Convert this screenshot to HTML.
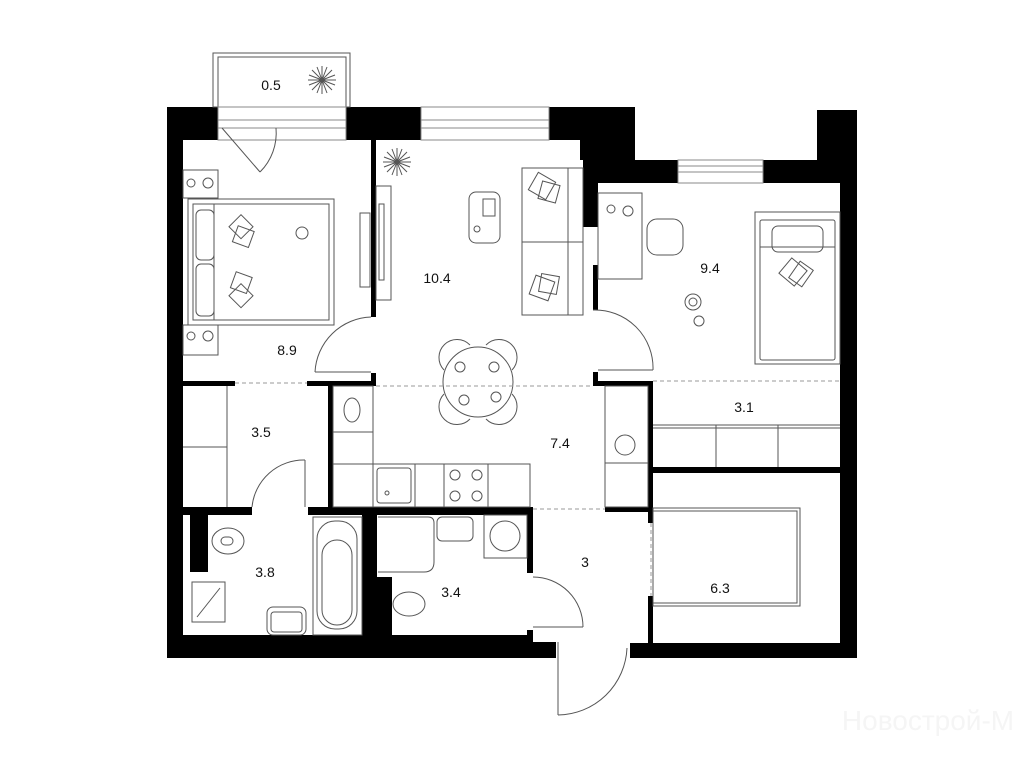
<!DOCTYPE html>
<html><head><meta charset="utf-8"><style>
html,body{margin:0;padding:0;background:#fff;width:1024px;height:768px;overflow:hidden}
svg{display:block}
text{font-family:"Liberation Sans",sans-serif;font-size:14px;fill:#111}
</style></head><body>
<svg width="1024" height="768" viewBox="0 0 1024 768" xmlns="http://www.w3.org/2000/svg">
<g fill="#000">
<rect x="167" y="107" width="16" height="551"/>
<rect x="167" y="107" width="51" height="33"/>
<rect x="346" y="107" width="75" height="33"/>
<rect x="549" y="107" width="86" height="33"/>
<rect x="580" y="107" width="55" height="53"/>
<rect x="583" y="140" width="15" height="87"/>
<rect x="598" y="160" width="80" height="23"/>
<rect x="763" y="160" width="54" height="23"/>
<rect x="817" y="110" width="40" height="73"/>
<rect x="840" y="110" width="17" height="548"/>
<rect x="167" y="635" width="366" height="23"/>
<rect x="533" y="642" width="23" height="16"/>
<rect x="630" y="643" width="227" height="15"/>
<rect x="371" y="140" width="5" height="177"/>
<rect x="593" y="265" width="5" height="45"/>
<rect x="593" y="372" width="5" height="14"/>
<rect x="593" y="381" width="60" height="5"/>
<rect x="648" y="381" width="5" height="142"/>
<rect x="648" y="596" width="5" height="49"/>
<rect x="653" y="467" width="187" height="6"/>
<rect x="605" y="507" width="48" height="5"/>
<rect x="183" y="381" width="52" height="5"/>
<rect x="307" y="381" width="69" height="5"/>
<rect x="371" y="373" width="5" height="13"/>
<rect x="328" y="386" width="5" height="121"/>
<rect x="183" y="507" width="69" height="8"/>
<rect x="308" y="507" width="225" height="8"/>
<rect x="527" y="507" width="6" height="66"/>
<rect x="527" y="630" width="6" height="12"/>
<rect x="190" y="515" width="18" height="57"/>
<rect x="362" y="515" width="15" height="120"/>
<rect x="377" y="577" width="15" height="58"/>
</g>
<g fill="none" stroke="#555" stroke-width="1">
<rect x="213" y="53" width="137" height="54"/>
<rect x="218" y="57" width="128" height="50"/>
<rect x="218" y="107" width="128" height="33" stroke="#888"/><line x1="218" y1="120" x2="346" y2="120" stroke="#888"/><line x1="218" y1="128" x2="346" y2="128" stroke="#888"/>
<rect x="421" y="107" width="128" height="33" stroke="#888"/><line x1="421" y1="120" x2="549" y2="120" stroke="#888"/><line x1="421" y1="128" x2="549" y2="128" stroke="#888"/>
<rect x="678" y="160" width="85" height="23" stroke="#888"/><line x1="678" y1="166" x2="763" y2="166" stroke="#888"/><line x1="678" y1="172" x2="763" y2="172" stroke="#888"/>
<line x1="222" y1="128" x2="260" y2="172"/><path d="M260 172 A55 55 0 0 0 276 128"/>
<g transform="translate(322,80)"><path d="M-14 0H14M0 -14V14M-10 -10L10 10M-10 10L10 -10M-13 -5L13 5M-13 5L13 -5M-5 -13L5 13M5 -13L-5 13"/></g>
<g transform="translate(397,162)"><path d="M-14 0H14M0 -14V14M-10 -10L10 10M-10 10L10 -10M-13 -5L13 5M-13 5L13 -5M-5 -13L5 13M5 -13L-5 13"/></g>
<rect x="183" y="170" width="35" height="28"/><rect x="183" y="325" width="35" height="30"/>
<circle cx="208" cy="183" r="5"/><circle cx="191" cy="183" r="4"/><circle cx="208" cy="336" r="5"/><circle cx="191" cy="336" r="4"/>
<rect x="188" y="199" width="146" height="126"/><rect x="193" y="204" width="136" height="116"/>
<line x1="214" y1="204" x2="214" y2="320"/>
<rect x="196" y="210" width="18" height="50" rx="5"/><rect x="196" y="264" width="18" height="52" rx="5"/>
<rect x="233" y="218" width="17" height="17" transform="rotate(45 241 226)"/><rect x="235" y="228" width="17" height="17" transform="rotate(20 243 236)"/>
<rect x="233" y="274" width="17" height="17" transform="rotate(20 241 282)"/><rect x="233" y="287" width="17" height="17" transform="rotate(45 241 295)"/>
<circle cx="302" cy="233" r="6"/>
<rect x="360" y="213" width="10" height="74"/><rect x="376" y="186" width="15" height="114"/><rect x="379" y="204" width="5" height="76"/>
<path d="M315 372 A58 58 0 0 1 371 317"/><line x1="315" y1="372" x2="371" y2="372"/>
<rect x="522" y="168" width="61" height="147"/><line x1="568" y1="168" x2="568" y2="315"/><line x1="522" y1="242" x2="583" y2="242"/>
<rect x="532" y="176" width="20" height="20" transform="rotate(30 542 186)"/><rect x="540" y="183" width="18" height="18" transform="rotate(15 549 192)"/>
<rect x="532" y="278" width="20" height="20" transform="rotate(20 542 288)"/><rect x="540" y="275" width="18" height="18" transform="rotate(10 549 284)"/>
<rect x="469" y="192" width="31" height="51" rx="7"/><rect x="483" y="199" width="12" height="17"/><circle cx="477" cy="229" r="3"/>
<path d="M593 310 A58 58 0 0 1 653 370"/><line x1="598" y1="370" x2="653" y2="370"/>
<circle cx="478" cy="382" r="35"/>
<path d="M444 370 A18 18 0 0 1 470 345"/><path d="M486 345 A18 18 0 0 1 512 370"/><path d="M444 394 A18 18 0 0 0 470 419"/><path d="M486 419 A18 18 0 0 0 512 394"/>
<circle cx="460" cy="367" r="5"/><circle cx="494" cy="367" r="5"/><circle cx="464" cy="400" r="5"/><circle cx="496" cy="397" r="5"/>
<rect x="598" y="193" width="44" height="86"/><circle cx="628" cy="211" r="5"/><circle cx="611" cy="209" r="4"/>
<rect x="647" y="219" width="36" height="36" rx="10"/>
<rect x="755" y="212" width="85" height="152"/><rect x="760" y="220" width="75" height="140" rx="2"/>
<rect x="772" y="226" width="51" height="26" rx="6"/><line x1="760" y1="247" x2="835" y2="247"/>
<rect x="783" y="262" width="20" height="20" transform="rotate(40 793 272)"/><rect x="793" y="264" width="16" height="20" transform="rotate(35 801 274)"/>
<circle cx="693" cy="302" r="8"/><circle cx="693" cy="302" r="4"/><circle cx="699" cy="321" r="5"/>
<line x1="653" y1="425" x2="840" y2="425"/><line x1="653" y1="428" x2="840" y2="428"/>
<line x1="716" y1="425" x2="716" y2="467"/><line x1="778" y1="425" x2="778" y2="467"/>
<rect x="653" y="508" width="147" height="98"/><rect x="653" y="511" width="144" height="92"/>
<rect x="605" y="386" width="43" height="121"/><line x1="605" y1="463" x2="648" y2="463"/>
<circle cx="625" cy="445" r="10"/>
<rect x="333" y="386" width="40" height="121"/><line x1="333" y1="432" x2="373" y2="432"/>
<rect x="333" y="464" width="197" height="43"/><line x1="373" y1="464" x2="373" y2="507"/><line x1="415" y1="464" x2="415" y2="507"/><line x1="444" y1="464" x2="444" y2="507"/><line x1="488" y1="464" x2="488" y2="507"/>
<rect x="377" y="468" width="34" height="35" rx="3"/><circle cx="387" cy="493" r="2"/>
<circle cx="455" cy="475" r="5"/><circle cx="477" cy="475" r="5"/><circle cx="455" cy="496" r="5"/><circle cx="477" cy="496" r="5"/>
<ellipse cx="352" cy="410" rx="8" ry="12"/>
<line x1="227" y1="386" x2="227" y2="507"/><line x1="183" y1="447" x2="227" y2="447"/>
<path d="M252 507 A52 52 0 0 1 305 460"/><line x1="305" y1="460" x2="305" y2="507"/>
<ellipse cx="228" cy="541" rx="16" ry="13"/><rect x="221" y="537" width="12" height="8" rx="4"/>
<rect x="192" y="582" width="33" height="40"/><line x1="197" y1="617" x2="220" y2="588"/>
<rect x="267" y="607" width="39" height="28" rx="6"/><rect x="271" y="612" width="31" height="20" rx="3"/>
<rect x="313" y="517" width="49" height="118"/><rect x="317" y="521" width="40" height="108" rx="18"/><rect x="322" y="540" width="30" height="85" rx="15"/>
<path d="M378 517 H428 Q434 517 434 523 V562 Q434 572 424 572 H378"/>
<rect x="437" y="517" width="36" height="24" rx="5"/>
<rect x="484" y="515" width="43" height="43"/><circle cx="505" cy="536" r="15"/>
<ellipse cx="409" cy="604" rx="16" ry="12"/>
<path d="M583 627 A50 50 0 0 0 533 577"/><line x1="533" y1="627" x2="583" y2="627"/>
<line x1="558" y1="642" x2="558" y2="715"/><path d="M558 715 A70 70 0 0 0 627 648"/>
</g>
<g stroke="#999" stroke-width="1" stroke-dasharray="4 3" fill="none">
<line x1="235" y1="383" x2="307" y2="383"/>
<line x1="376" y1="386" x2="593" y2="386"/>
<line x1="653" y1="381" x2="840" y2="381"/>
<line x1="533" y1="509" x2="605" y2="509"/>
<line x1="651" y1="523" x2="651" y2="596"/>
</g>
<text x="271" y="90" text-anchor="middle">0.5</text>
<text x="287" y="355" text-anchor="middle">8.9</text>
<text x="437" y="283" text-anchor="middle">10.4</text>
<text x="710" y="273" text-anchor="middle">9.4</text>
<text x="261" y="437" text-anchor="middle">3.5</text>
<text x="560" y="448" text-anchor="middle">7.4</text>
<text x="744" y="412" text-anchor="middle">3.1</text>
<text x="265" y="577" text-anchor="middle">3.8</text>
<text x="451" y="597" text-anchor="middle">3.4</text>
<text x="585" y="567" text-anchor="middle">3</text>
<text x="720" y="593" text-anchor="middle">6.3</text>
<text x="928" y="730" text-anchor="middle" style="font-size:28px;fill:#f5f5f5">Новострой-М</text>
</svg>
</body></html>
